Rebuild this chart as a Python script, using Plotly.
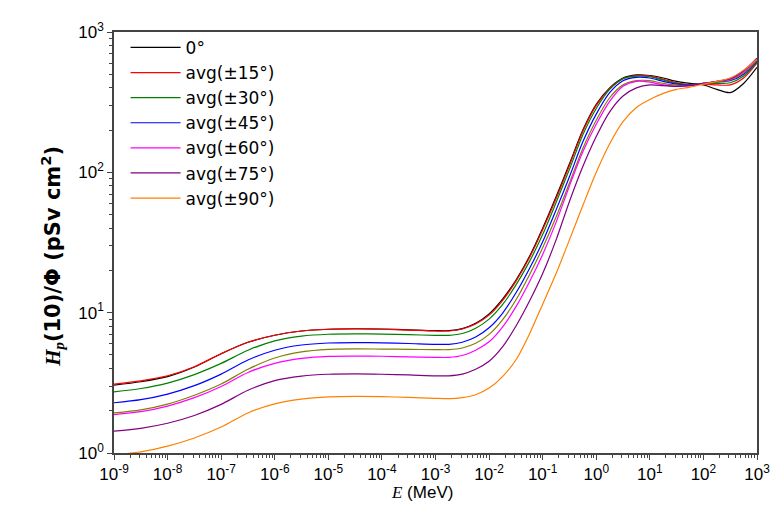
import plotly.graph_objects as go

energy = [1e-9, 3.16e-9, 1e-8, 3.16e-8, 1e-7, 3.16e-7, 1e-6, 3.16e-6, 1e-5, 3.16e-5, 1e-4, 3.16e-4,
          1e-3, 1.78e-3, 3.16e-3, 5.62e-3, 1e-2, 1.78e-2, 3.16e-2, 5.62e-2, 0.1, 0.178, 0.316, 0.562,
          1, 1.78, 3.16, 5.62, 10, 17.8, 31.6, 56.2, 100, 178, 316, 562, 1000]

h_0 = [3.05, 3.22, 3.5, 4.1, 5.1, 6.15, 6.9, 7.4, 7.62, 7.68, 7.65, 7.55,
       7.45, 7.45, 7.7, 8.4, 9.8, 12.5, 17, 25, 40, 67, 115, 200,
       305, 400, 470, 495, 490, 470, 445, 430, 420, 390, 370, 430, 560]
h_15 = [3.1, 3.27, 3.55, 4.12, 5.1, 6.15, 6.9, 7.4, 7.62, 7.66, 7.62, 7.52,
        7.4, 7.4, 7.65, 8.3, 9.6, 12.2, 16.7, 24.5, 39, 65, 112, 196,
        300, 395, 465, 490, 485, 460, 435, 420, 425, 420, 420, 470, 600]
h_30 = [2.73, 2.88, 3.15, 3.62, 4.35, 5.4, 6.3, 6.8, 7.02, 7.06, 7.04, 6.97,
        6.9, 6.9, 7.1, 7.75, 9.0, 11.4, 15.7, 23, 36, 61, 105, 185,
        285, 390, 465, 485, 480, 455, 430, 420, 430, 430, 435, 485, 610]
h_45 = [2.28, 2.4, 2.63, 3.02, 3.65, 4.6, 5.4, 5.88, 6.08, 6.12, 6.1, 6.03,
        5.95, 5.95, 6.15, 6.7, 7.8, 9.9, 13.8, 20.5, 32, 54, 93, 165,
        260, 370, 450, 475, 470, 445, 425, 420, 430, 440, 450, 500, 620]
h_extra = [1.93, 2.03, 2.23, 2.58, 3.1, 3.95, 4.75, 5.25, 5.48, 5.52, 5.5, 5.48,
           5.45, 5.45, 5.6, 6.05, 7.0, 8.9, 12.3, 18.5, 29, 48, 84, 148,
           235, 340, 420, 450, 450, 430, 418, 418, 430, 440, 455, 510, 630]
h_60 = [1.88, 1.97, 2.16, 2.48, 2.98, 3.75, 4.35, 4.72, 4.88, 4.9, 4.89, 4.84,
        4.8, 4.8, 4.95, 5.4, 6.2, 7.9, 11, 16.5, 26, 44, 80, 140,
        220, 320, 410, 445, 440, 420, 410, 415, 430, 445, 460, 520, 640]
h_75 = [1.43, 1.5, 1.63, 1.85, 2.22, 2.8, 3.28, 3.53, 3.64, 3.66, 3.64, 3.6,
        3.55, 3.55, 3.65, 3.95, 4.5, 5.7, 8.0, 12, 19, 33, 62, 110,
        180, 270, 350, 400, 420, 415, 410, 415, 430, 445, 465, 530, 650]
h_90 = [0.97, 1.02, 1.12, 1.28, 1.53, 1.93, 2.24, 2.42, 2.51, 2.53, 2.52, 2.49,
        2.45, 2.44, 2.48, 2.6, 2.9, 3.5, 4.6, 7.0, 11.5, 19, 33, 58,
        100, 160, 230, 290, 330, 365, 390, 405, 425, 445, 470, 535, 640]

names = ["0°", "avg(±15°)", "avg(±30°)", "avg(±45°)", None, "avg(±60°)", "avg(±75°)", "avg(±90°)"]
series = [h_0, h_15, h_30, h_45, h_extra, h_60, h_75, h_90]
colors = ["#000000", "#ff0000", "#008000", "#0000ff", "#808000", "#ff00ff", "#800080", "#ff8000"]

x_major = [1e-9, 1e-8, 1e-7, 1e-6, 1e-5, 1e-4, 1e-3, 1e-2, 1e-1, 1, 10, 100, 1000]
x_labels = ["10<sup>-9</sup>", "10<sup>-8</sup>", "10<sup>-7</sup>", "10<sup>-6</sup>", "10<sup>-5</sup>",
            "10<sup>-4</sup>", "10<sup>-3</sup>", "10<sup>-2</sup>", "10<sup>-1</sup>", "10<sup>0</sup>",
            "10<sup>1</sup>", "10<sup>2</sup>", "10<sup>3</sup>"]
y_major = [1, 10, 100, 1000]
y_labels = ["10<sup>0</sup>", "10<sup>1</sup>", "10<sup>2</sup>", "10<sup>3</sup>"]

x_minor = [m * 10.0 ** k for k in range(-9, 3) for m in range(2, 10)]
y_minor = [m * 10.0 ** k for k in range(0, 3) for m in range(2, 10)]

fig = go.Figure()
for i in range(len(series)):
    fig.add_trace(go.Scatter(
        x=energy, y=series[i], mode="lines",
        name=names[i] if names[i] else "",
        showlegend=names[i] is not None,
        line=dict(color=colors[i], width=1.2, shape="spline", smoothing=0.8),
    ))

sans = "Liberation Sans, Arial, sans-serif"
axis_font = dict(family=sans, size=17, color="#000")
fig.update_layout(
    width=781, height=508,
    margin=dict(l=106, r=32, t=18, b=63),
    paper_bgcolor="white", plot_bgcolor="white",
    font=dict(family=sans, size=16, color="#000"),
    showlegend=True,
    legend=dict(x=0.018, y=1.005, xanchor="left", yanchor="top",
                bgcolor="rgba(0,0,0,0)", borderwidth=0,
                traceorder="normal",
                font=dict(family="DejaVu Sans, sans-serif", size=17, color="#000"),
                itemwidth=50),
    annotations=[
        dict(text="<span style='font-family:Liberation Serif'><i>E</i></span> (MeV)",
             x=(414 - 106) / 643, y=-0.093, xref="paper", yref="paper",
             xanchor="center", yanchor="middle", showarrow=False,
             font=dict(family=sans, size=17, color="#000")),
        dict(text="<b><span style='font-family:Liberation Serif'><i>H</i><sub><i>p</i></sub></span>(10)/Φ (pSv cm<sup>2</sup>)</b>",
             x=(44 - 106) / 643, y=(445 - 246) / 427, xref="paper", yref="paper",
             xanchor="center", yanchor="middle", textangle=-90, showarrow=False,
             font=dict(family="DejaVu Sans, sans-serif", size=21, color="#000")),
    ],
)
common = dict(
    type="log", showgrid=False, zeroline=False,
    showline=True, linecolor="#444", linewidth=1.5, mirror=True,
    ticks="outside", ticklen=5, tickwidth=1.2, tickcolor="#444",
    tickfont=axis_font,
)
fig.update_xaxes(range=[-9, 3], tickmode="array", tickvals=x_major, ticktext=x_labels,
                 minor=dict(tickmode="array", tickvals=x_minor, ticks="outside", ticklen=3,
                            tickwidth=1, tickcolor="#444", showgrid=False),
                 **common)
fig.update_yaxes(range=[0, 3], tickmode="array", tickvals=y_major, ticktext=y_labels,
                 minor=dict(tickmode="array", tickvals=y_minor, ticks="outside", ticklen=3,
                            tickwidth=1, tickcolor="#444", showgrid=False),
                 **common)

fig.write_html("out.html")
